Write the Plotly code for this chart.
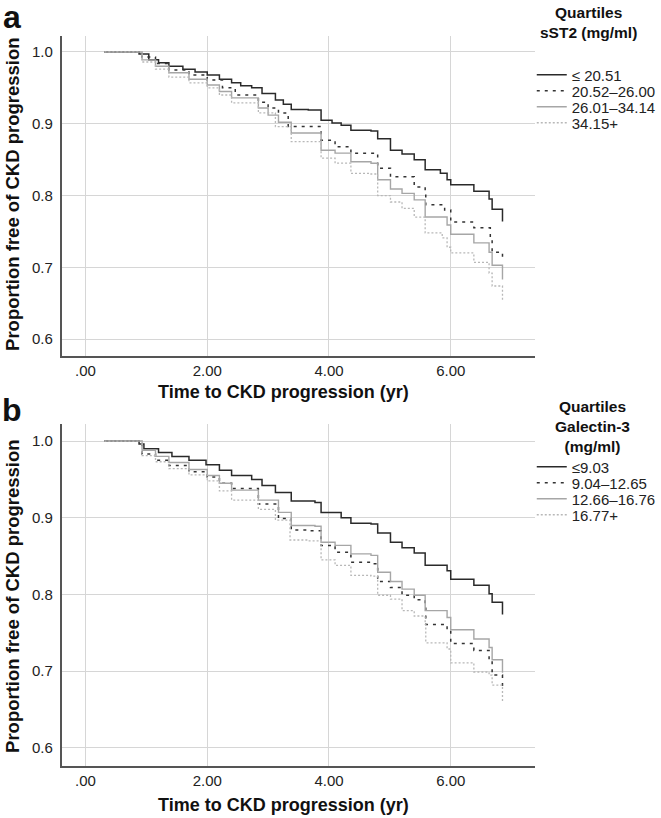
import plotly.graph_objects as go

# ---------------- Panel a : sST2 quartiles ----------------
a_q1_t = [0.31, 0.88, 1.04, 1.20, 1.37, 1.60, 1.80, 2.00, 2.20, 2.40, 2.55, 2.73, 2.90, 3.12, 3.25, 3.38, 3.66, 3.87, 4.05, 4.20, 4.36, 4.69, 4.80, 5.01, 5.20, 5.40, 5.58, 5.83, 5.94, 6.00, 6.38, 6.63, 6.68, 6.84, 6.85]
a_q1_s = [1.000, 0.997, 0.989, 0.985, 0.980, 0.976, 0.972, 0.968, 0.962, 0.957, 0.953, 0.950, 0.942, 0.933, 0.927, 0.920, 0.919, 0.905, 0.901, 0.898, 0.891, 0.890, 0.879, 0.863, 0.858, 0.850, 0.836, 0.831, 0.822, 0.815, 0.806, 0.795, 0.781, 0.781, 0.764]

a_q2_t = [0.31, 0.93, 1.15, 1.37, 1.70, 2.00, 2.25, 2.46, 2.84, 3.00, 3.17, 3.33, 3.66, 3.87, 4.10, 4.36, 4.69, 4.80, 5.01, 5.40, 5.58, 5.59, 5.90, 6.00, 6.38, 6.65, 6.68, 6.84, 6.85]
a_q2_s = [1.000, 0.993, 0.984, 0.975, 0.968, 0.961, 0.950, 0.940, 0.930, 0.922, 0.915, 0.896, 0.896, 0.877, 0.868, 0.859, 0.859, 0.838, 0.826, 0.812, 0.803, 0.787, 0.780, 0.763, 0.755, 0.738, 0.721, 0.721, 0.714]

a_q3_t = [0.31, 0.93, 1.15, 1.37, 1.70, 2.00, 2.20, 2.40, 2.84, 3.00, 3.17, 3.38, 3.66, 3.87, 4.10, 4.36, 4.69, 4.80, 5.01, 5.20, 5.40, 5.58, 5.94, 6.00, 6.38, 6.63, 6.68, 6.84, 6.85]
a_q3_s = [1.000, 0.989, 0.980, 0.971, 0.962, 0.954, 0.945, 0.936, 0.922, 0.912, 0.902, 0.887, 0.887, 0.863, 0.859, 0.847, 0.845, 0.822, 0.809, 0.803, 0.794, 0.770, 0.759, 0.746, 0.734, 0.721, 0.703, 0.703, 0.683]

a_q4_t = [0.31, 0.93, 1.15, 1.37, 1.70, 2.00, 2.20, 2.40, 2.84, 3.12, 3.38, 3.66, 3.87, 4.10, 4.36, 4.69, 4.80, 5.01, 5.20, 5.40, 5.58, 5.86, 5.94, 6.00, 6.38, 6.63, 6.68, 6.84, 6.85]
a_q4_s = [1.000, 0.986, 0.976, 0.965, 0.957, 0.950, 0.940, 0.929, 0.915, 0.896, 0.875, 0.875, 0.852, 0.845, 0.831, 0.830, 0.800, 0.791, 0.782, 0.770, 0.748, 0.741, 0.728, 0.720, 0.707, 0.692, 0.674, 0.674, 0.653]

# ---------------- Panel b : Galectin-3 quartiles ----------------
b_q1_t = [0.31, 0.88, 0.96, 1.20, 1.42, 1.70, 1.98, 2.20, 2.40, 2.73, 2.90, 3.12, 3.38, 3.77, 3.87, 4.20, 4.36, 4.69, 4.80, 5.01, 5.20, 5.40, 5.58, 5.94, 6.00, 6.38, 6.63, 6.68, 6.84, 6.85]
b_q1_s = [1.000, 0.996, 0.990, 0.985, 0.980, 0.975, 0.969, 0.962, 0.955, 0.950, 0.942, 0.933, 0.922, 0.920, 0.907, 0.900, 0.893, 0.892, 0.880, 0.868, 0.861, 0.854, 0.838, 0.831, 0.820, 0.812, 0.801, 0.790, 0.790, 0.774]

b_q2_t = [0.31, 0.93, 1.15, 1.37, 1.70, 2.00, 2.20, 2.40, 2.84, 3.17, 3.38, 3.66, 3.87, 4.10, 4.36, 4.69, 4.80, 5.01, 5.20, 5.40, 5.58, 5.59, 5.94, 6.00, 6.38, 6.63, 6.68, 6.84, 6.85]
b_q2_s = [1.000, 0.983, 0.975, 0.968, 0.960, 0.953, 0.945, 0.938, 0.918, 0.899, 0.884, 0.883, 0.864, 0.855, 0.842, 0.840, 0.817, 0.809, 0.799, 0.793, 0.783, 0.761, 0.754, 0.736, 0.727, 0.714, 0.695, 0.695, 0.676]

b_q3_t = [0.31, 0.93, 1.15, 1.37, 1.70, 2.00, 2.20, 2.40, 2.84, 3.17, 3.38, 3.77, 3.87, 4.10, 4.36, 4.69, 4.80, 5.01, 5.20, 5.40, 5.58, 5.94, 6.00, 6.38, 6.63, 6.68, 6.84, 6.85]
b_q3_s = [1.000, 0.988, 0.980, 0.972, 0.963, 0.955, 0.945, 0.936, 0.923, 0.907, 0.890, 0.889, 0.868, 0.864, 0.853, 0.851, 0.829, 0.817, 0.807, 0.799, 0.779, 0.770, 0.754, 0.742, 0.731, 0.715, 0.715, 0.698]

b_q4_t = [0.31, 0.93, 1.15, 1.37, 1.70, 2.00, 2.20, 2.40, 2.84, 3.12, 3.36, 3.66, 3.87, 4.10, 4.36, 4.69, 4.80, 5.01, 5.20, 5.40, 5.58, 5.59, 5.94, 6.00, 6.38, 6.63, 6.68, 6.84, 6.85]
b_q4_s = [1.000, 0.981, 0.973, 0.964, 0.956, 0.948, 0.935, 0.923, 0.911, 0.897, 0.871, 0.870, 0.845, 0.838, 0.825, 0.824, 0.799, 0.794, 0.779, 0.772, 0.761, 0.737, 0.729, 0.711, 0.699, 0.695, 0.682, 0.682, 0.660]

a_labels = ["\u2264 20.51", "20.52\u201326.00", "26.01\u201334.14", "34.15+"]
b_labels = ["\u22649.03", "9.04\u201312.65", "12.66\u201316.76", "16.77+"]
a_legend_title = ["Quartiles", "sST2 (mg/ml)"]
b_legend_title = ["Quartiles", "Galectin-3", "(mg/ml)"]

x_tickvals = [0, 2, 4, 6]
x_ticktext = [".00", "2.00", "4.00", "6.00"]
y_tickvals = [0.6, 0.7, 0.8, 0.9, 1.0]
y_ticktext = ["0.6", "0.7", "0.8", "0.9", "1.0"]
x_title = "Time to CKD progression (yr)"
y_title = "Proportion free of CKD progression"

styles = [
    dict(color="#2a2a2a", width=1.5, dash="solid"),
    dict(color="#333333", width=1.5, dash="3px,5px"),
    dict(color="#a6a6a6", width=1.4, dash="solid"),
    dict(color="#b8b8b8", width=1.3, dash="2px,2px"),
]

W, H = 661, 818
FONT = "Liberation Sans, Arial, sans-serif"


def px_x(p):
    return p / W


def px_y(p):
    return 1 - p / H


fig = go.Figure()

a_series = [(a_q1_t, a_q1_s), (a_q2_t, a_q2_s), (a_q3_t, a_q3_s), (a_q4_t, a_q4_s)]
b_series = [(b_q1_t, b_q1_s), (b_q2_t, b_q2_s), (b_q3_t, b_q3_s), (b_q4_t, b_q4_s)]

# legend row positions (px from top)
a_rows = [75, 91, 107, 123]
b_rows = [467, 483, 499, 515]

legend_layouts = {}
for i, (t, s) in enumerate(a_series):
    key = "legend" if i == 0 else f"legend{i + 1}"
    fig.add_trace(go.Scatter(x=t, y=s, mode="lines", line=dict(shape="hv", **styles[i]),
                             name=a_labels[i], xaxis="x", yaxis="y", legend=key))
    legend_layouts[key] = a_rows[i]
for i, (t, s) in enumerate(b_series):
    key = f"legend{i + 5}"
    fig.add_trace(go.Scatter(x=t, y=s, mode="lines", line=dict(shape="hv", **styles[i]),
                             name=b_labels[i], xaxis="x2", yaxis="y2", legend=key))
    legend_layouts[key] = b_rows[i]

xdom = [px_x(62), px_x(538)]
ya_dom = [px_y(356), px_y(36)]
yb_dom = [px_y(766), px_y(424)]
yrange = [0.5765, 1.0222]

xcommon = dict(range=[-0.392, 7.38], tickvals=x_tickvals, ticktext=x_ticktext,
               showgrid=True, gridcolor="#d6d6d6", gridwidth=1, zeroline=False,
               showline=True, linecolor="#555555", linewidth=1.5, ticks="",
               tickfont=dict(size=15, color="#222222", family=FONT),
               automargin=False, fixedrange=True)
ycommon = dict(range=yrange, tickvals=y_tickvals, ticktext=y_ticktext,
               showgrid=True, gridcolor="#d6d6d6", gridwidth=1, zeroline=False,
               showline=True, linecolor="#555555", linewidth=1.5, ticks="",
               ticklabelstandoff=4,
               tickfont=dict(size=15, color="#222222", family=FONT),
               automargin=False, fixedrange=True)

layout_legends = {}
for key, row in legend_layouts.items():
    layout_legends[key] = dict(x=px_x(535), xanchor="left", y=px_y(row), yanchor="middle",
                               bgcolor="rgba(0,0,0,0)", borderwidth=0,
                               font=dict(size=15, color="#222222", family=FONT),
                               itemwidth=30)

annotations = [
    dict(text="<b>a</b>", x=px_x(12), y=px_y(17), xanchor="center", yanchor="middle",
         font=dict(size=32, color="#111111", family=FONT)),
    dict(text="<b>b</b>", x=px_x(12), y=px_y(410), xanchor="center", yanchor="middle",
         font=dict(size=32, color="#111111", family=FONT)),
    dict(text=f"<b>{x_title}</b>", x=px_x(285), y=px_y(392), xanchor="center", yanchor="middle",
         font=dict(size=18, color="#111111", family=FONT)),
    dict(text=f"<b>{x_title}</b>", x=px_x(285), y=px_y(805), xanchor="center", yanchor="middle",
         font=dict(size=18, color="#111111", family=FONT)),
    dict(text=f"<b>{y_title}</b>", x=px_x(12), y=px_y(194), xanchor="center", yanchor="middle",
         textangle=-90, font=dict(size=18.5, color="#111111", family=FONT)),
    dict(text=f"<b>{y_title}</b>", x=px_x(12), y=px_y(596), xanchor="center", yanchor="middle",
         textangle=-90, font=dict(size=18.5, color="#111111", family=FONT)),
    dict(text="<b>" + "<br>".join(a_legend_title) + "</b>", x=px_x(592), y=px_y(23),
         xanchor="center", yanchor="middle", align="center", borderpad=0,
         font=dict(size=15.5, color="#111111", family=FONT)),
    dict(text="<b>" + "<br>".join(b_legend_title) + "</b>", x=px_x(596), y=px_y(426),
         xanchor="center", yanchor="middle", align="center", borderpad=0,
         font=dict(size=15.5, color="#111111", family=FONT)),
]
for an in annotations:
    an.update(xref="paper", yref="paper", showarrow=False)

fig.update_layout(
    width=W, height=H,
    margin=dict(l=0, r=0, t=0, b=0),
    paper_bgcolor="white", plot_bgcolor="white",
    font=dict(family=FONT),
    xaxis=dict(domain=xdom, anchor="y", **xcommon),
    yaxis=dict(domain=ya_dom, anchor="x", **ycommon),
    xaxis2=dict(domain=xdom, anchor="y2", **xcommon),
    yaxis2=dict(domain=yb_dom, anchor="x2", **ycommon),
    annotations=annotations,
    showlegend=True,
    **layout_legends,
)

fig.write_html("out.html", config={"displayModeBar": False},
               post_script="document.body.style.margin='0px';document.body.style.overflow='hidden';")
